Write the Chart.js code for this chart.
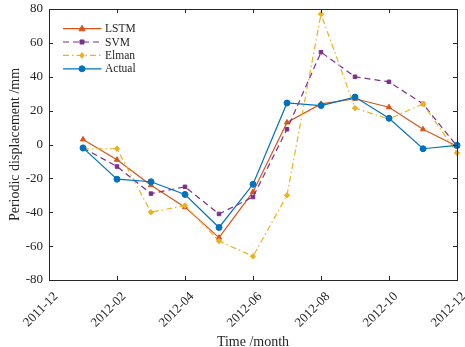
<!DOCTYPE html>
<html><head><meta charset="utf-8">
<script src="https://cdn.jsdelivr.net/npm/chart.js@4.4.1/dist/chart.umd.min.js"></script>
<style>html,body{margin:0;padding:0;background:#fff;}#wrap{width:465px;height:347px;}</style>
</head><body><div id="wrap"><canvas id="c" width="465" height="347"></canvas></div>
<script>
const tickLabels = ['2011-12','2012-02','2012-04','2012-06','2012-08','2012-10','2012-12'];
const months = [1,2,3,4,5,6,7,8,9,10,11,12];
const lstm   = [3, -9, -24, -37, -55, -28, 13, 24, 27, 22, 9, -1];
const svm    = [-2, -13, -29, -25, -41, -31, 9, 54.5, 40, 37, 24, -1];
const elman  = [-2.5, -2.5, -40, -36, -57, -66, -30, 77, 21.5, 15, 24, -5];
const actual = [-2, -20.5, -22, -29.5, -49, -23.5, 24.5, 23, 28, 15.5, -2.5, -0.5];

const pts = arr => arr.map((v,i)=>({x:months[i], y:v}));
const AX = '#262626';

function drawMarker(ctx, style, x, y, r, color){
  ctx.save();
  ctx.fillStyle = color; ctx.strokeStyle = color; ctx.setLineDash([]); ctx.lineWidth=1;
  ctx.beginPath();
  if(style==='triangle'){
    ctx.moveTo(x, y - r*1.15); ctx.lineTo(x + r, y + r*0.7); ctx.lineTo(x - r, y + r*0.7); ctx.closePath();
  } else if(style==='rect'){
    ctx.rect(x-r*0.8, y-r*0.8, r*1.6, r*1.6);
  } else if(style==='rectRot'){
    ctx.moveTo(x, y-r*1.1); ctx.lineTo(x+r*0.8, y); ctx.lineTo(x, y+r*1.1); ctx.lineTo(x-r*0.8, y); ctx.closePath();
  } else {
    ctx.arc(x, y, r, 0, Math.PI*2);
  }
  ctx.fill(); ctx.stroke();
  ctx.restore();
}

const frame = {
  id:'frame',
  afterDatasetsDraw(chart){
    const {ctx, chartArea:a, scales} = chart;
    ctx.save();
    ctx.strokeStyle = AX; ctx.lineWidth = 1; ctx.setLineDash([]);
    ctx.strokeRect(Math.round(a.left)+0.5, Math.round(a.top)+0.5, Math.round(a.right-a.left), Math.round(a.bottom-a.top));
    ctx.beginPath();
    for(let v=-80; v<=80; v+=20){
      const y = Math.round(scales.y.getPixelForValue(v))+0.5;
      ctx.moveTo(a.left, y); ctx.lineTo(a.left+4, y);
      ctx.moveTo(a.right, y); ctx.lineTo(a.right-4, y);
    }
    for(let m=0; m<=12; m+=2){
      const x = Math.round(scales.x.getPixelForValue(m))+0.5;
      ctx.moveTo(x, a.bottom); ctx.lineTo(x, a.bottom-4);
      ctx.moveTo(x, a.top); ctx.lineTo(x, a.top+4);
    }
    ctx.stroke();
    ctx.restore();
  },
  afterDraw(chart){
    const ctx = chart.ctx;
    const rows = [28.7, 42, 55.4, 68.8];
    ctx.save();
    chart.data.datasets.forEach((ds, k)=>{
      const y = rows[k];
      ctx.strokeStyle = ds.borderColor; ctx.lineWidth = ds.borderWidth;
      ctx.setLineDash(ds.borderDash || []);
      ctx.beginPath(); ctx.moveTo(63, y); ctx.lineTo(101.5, y); ctx.stroke();
      drawMarker(ctx, ds.pointStyle, 82, y, ds.pointRadius, ds.borderColor);
      ctx.setLineDash([]);
      ctx.fillStyle = AX; ctx.font = '11.5px "Liberation Serif"';
      ctx.textBaseline = 'middle'; ctx.textAlign = 'left';
      ctx.fillText(ds.label, 105, y+0.5);
    });
    ctx.restore();
  }
};

Chart.defaults.font.family = '"Liberation Serif", "Times New Roman", serif';
Chart.defaults.color = AX;

function mk(label, data, color, style, dash, r, order){
  return {label, data: pts(data), borderColor: color, backgroundColor: color,
    pointStyle: style, pointRadius: r, pointHoverRadius: r, borderWidth: 1.2,
    borderDash: dash, pointBorderWidth: 1, tension: 0, clip: false, order};
}

new Chart(document.getElementById('c'), {
  type:'line',
  data:{datasets:[
    mk('LSTM', lstm, '#D95319', 'triangle', [], 3, 3),
    mk('SVM', svm, '#7E2F8E', 'rect', [6,4], 2.5, 2),
    mk('Elman', elman, '#EDB120', 'rectRot', [6,3,1.5,3], 2.7, 1),
    mk('Actual', actual, '#0072BD', 'circle', [], 3, 0)
  ]},
  options:{
    responsive:false, animation:false,
    layout:{padding:{left:0, right:8, top:9, bottom:0}},
    plugins:{legend:{display:false}, tooltip:{enabled:false}},
    scales:{
      x:{type:'linear', min:0, max:12,
        afterBuildTicks: s => { s.ticks = tickLabels.map((t,i)=>({value:i*2})); },
        ticks:{callback:(v)=>tickLabels[Math.round(v/2)], minRotation:45, maxRotation:45, font:{size:13}, color:AX, padding:9, labelOffset:7},
        grid:{display:false, drawTicks:false}, border:{display:false},
        title:{display:true, text:'Time /month', font:{size:14, lineHeight:1}, color:AX, padding:{top:0,bottom:-2}},
        afterFit: s => { s.height = 67; s.paddingLeft = 0; s.paddingRight = 0; }
      },
      y:{min:-80, max:80,
        ticks:{stepSize:20, font:{size:13}, color:AX, padding:6},
        grid:{display:false, drawTicks:false}, border:{display:false},
        title:{display:true, text:'Periodic displacement /mm', font:{size:14, lineHeight:1}, color:AX, padding:{top:8.5,bottom:0}},
        afterFit: s => { s.width = 49; s.paddingTop = 0; s.paddingBottom = 0; }
      }
    }
  },
  plugins:[frame]
});
</script></body></html>
